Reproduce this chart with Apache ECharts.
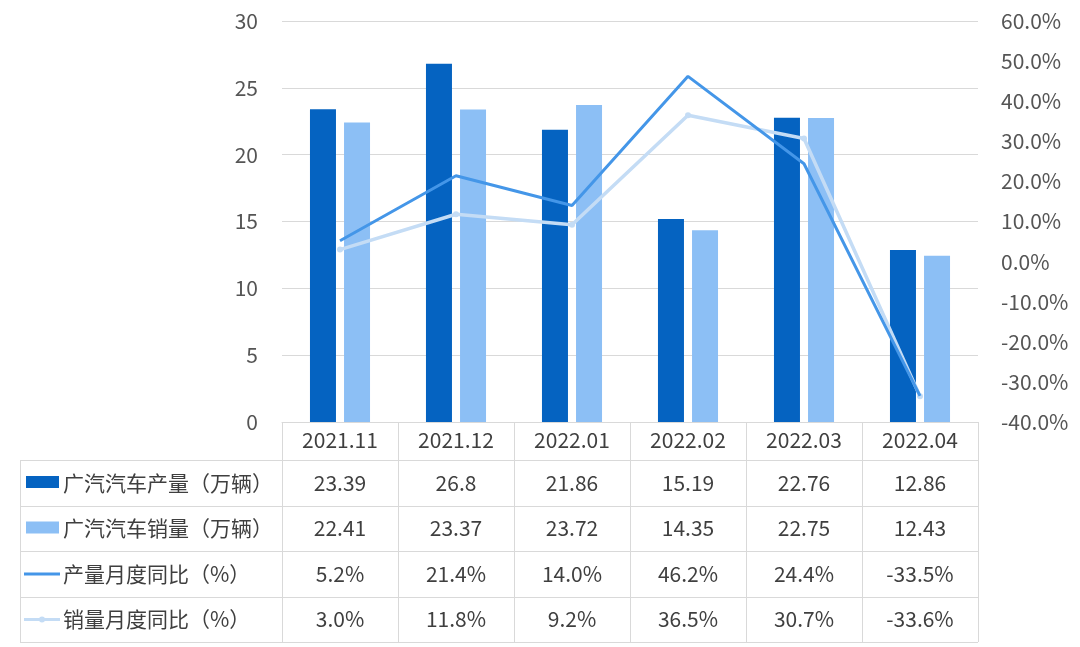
<!DOCTYPE html>
<html>
<head>
<meta charset="utf-8">
<script src="https://cdn.jsdelivr.net/npm/echarts@6/dist/echarts.min.js"></script>
<style>
  html, body { margin: 0; padding: 0; background: #fff; }
  #chart { width: 1080px; height: 647px; }
</style>
</head>
<body>
<div id="chart"></div>
<script>
var months = ['2021.11', '2021.12', '2022.01', '2022.02', '2022.03', '2022.04'];
var output = [23.39, 26.8, 21.86, 15.19, 22.76, 12.86];
var sales = [22.41, 23.37, 23.72, 14.35, 22.75, 12.43];
var outputYoY = [5.2, 21.4, 14.0, 46.2, 24.4, -33.5];
var salesYoY = [3.0, 11.8, 9.2, 36.5, 30.7, -33.6];
var leftTicks = [0, 30, 5];
var rightTicks = [-40, 60, 10];

var seriesNames = ['广汽汽车产量（万辆）', '广汽汽车销量（万辆）', '产量月度同比（%）', '销量月度同比（%）'];
var colors = ['#0563C1', '#8CBFF5', '#4496E8', '#C4DCF5'];
var font = '"Noto Sans CJK SC", "Noto Sans", sans-serif';
var border = '#D9D9D9';
var textColor = '#3F3F3F';

var gridLeft = 282, gridRight = 102, gridTop = 21, gridBottom = 225;

var chart = echarts.init(document.getElementById('chart'));

var option = {
  animation: false,
  textStyle: { fontFamily: font },
  grid: { left: gridLeft, right: gridRight, top: gridTop, bottom: gridBottom, containLabel: false },
  xAxis: {
    type: 'category',
    data: months,
    axisLine: { show: true, lineStyle: { color: border, width: 1 } },
    axisTick: { show: true, length: 38, lineStyle: { color: border } },
    axisLabel: { color: textColor, fontSize: 21, margin: 8, fontFamily: font }
  },
  yAxis: [{
    type: 'value',
    min: leftTicks[0], max: leftTicks[1], interval: leftTicks[2],
    axisLine: { show: false }, axisTick: { show: false },
    splitLine: { lineStyle: { color: border } },
    axisLabel: { color: '#555', fontSize: 21, margin: 24, fontFamily: font }
  }, {
    type: 'value',
    min: rightTicks[0], max: rightTicks[1], interval: rightTicks[2],
    axisLine: { show: false }, axisTick: { show: false },
    splitLine: { show: false },
    axisLabel: {
      color: '#555', fontSize: 21, margin: 23, fontFamily: font,
      formatter: function (v) { return v.toFixed(1) + '%'; }
    }
  }],
  series: [{
    name: seriesNames[0], type: 'bar', data: output,
    barWidth: 26, barGap: '31%',
    itemStyle: { color: colors[0] }
  }, {
    name: seriesNames[1], type: 'bar', data: sales,
    barWidth: 26,
    itemStyle: { color: colors[1] }
  }, {
    name: seriesNames[2], type: 'line', yAxisIndex: 1, data: outputYoY,
    symbol: 'none', z: 5,
    lineStyle: { color: colors[2], width: 3 }
  }, {
    name: seriesNames[3], type: 'line', yAxisIndex: 1, data: salesYoY,
    symbol: 'circle', symbolSize: 6, z: 4,
    itemStyle: { color: colors[3] },
    lineStyle: { color: colors[3], width: 3.5 }
  }]
};
chart.setOption(option);

// data table under the plot
var rows = [
  output.map(function (v) { return String(v); }),
  sales.map(function (v) { return String(v); }),
  outputYoY.map(function (v) { return v.toFixed(1) + '%'; }),
  salesYoY.map(function (v) { return v.toFixed(1) + '%'; })
];
var tableLeft = 20, tableRight = 1080 - gridRight;
var rowLines = [460, 506, 551, 597, 642];
var g = [];

rowLines.forEach(function (y) {
  g.push({ type: 'line', shape: { x1: tableLeft, y1: y + 0.5, x2: tableRight, y2: y + 0.5 },
    style: { stroke: border, lineWidth: 1 }, silent: true });
});
g.push({ type: 'line', shape: { x1: tableLeft + 0.5, y1: rowLines[0], x2: tableLeft + 0.5, y2: rowLines[4] },
  style: { stroke: border, lineWidth: 1 } });

for (var i = 0; i <= months.length; i++) {
  var x = gridLeft + (tableRight - gridLeft) * i / months.length;
  g.push({ type: 'line', shape: { x1: x + 0.5, y1: rowLines[0], x2: x + 0.5, y2: rowLines[4] },
    style: { stroke: border, lineWidth: 1 } });
}

rows.forEach(function (row, r) {
  var cy = (rowLines[r] + rowLines[r + 1]) / 2;
  // legend key
  if (r < 2) {
    g.push({ type: 'rect', shape: { x: 26, y: cy - 7, width: 33, height: 12 }, style: { fill: colors[r] } });
  } else {
    g.push({ type: 'line', shape: { x1: 24, y1: cy, x2: 60, y2: cy }, style: { stroke: colors[r], lineWidth: 3 } });
    if (r === 3) {
      g.push({ type: 'circle', shape: { cx: 42, cy: cy, r: 3 }, style: { fill: colors[r] } });
    }
  }
  g.push({ type: 'text', x: 63, y: cy, style: { text: seriesNames[r], font: '21px ' + font,
    fill: textColor, verticalAlign: 'middle', textAlign: 'left' } });
  row.forEach(function (txt, c) {
    var cx = chart.convertToPixel({ xAxisIndex: 0 }, c);
    g.push({ type: 'text', x: cx, y: cy, style: { text: txt, font: '21px ' + font,
      fill: textColor, verticalAlign: 'middle', textAlign: 'center' } });
  });
});

chart.setOption({ graphic: { elements: g } });
</script>
</body>
</html>
